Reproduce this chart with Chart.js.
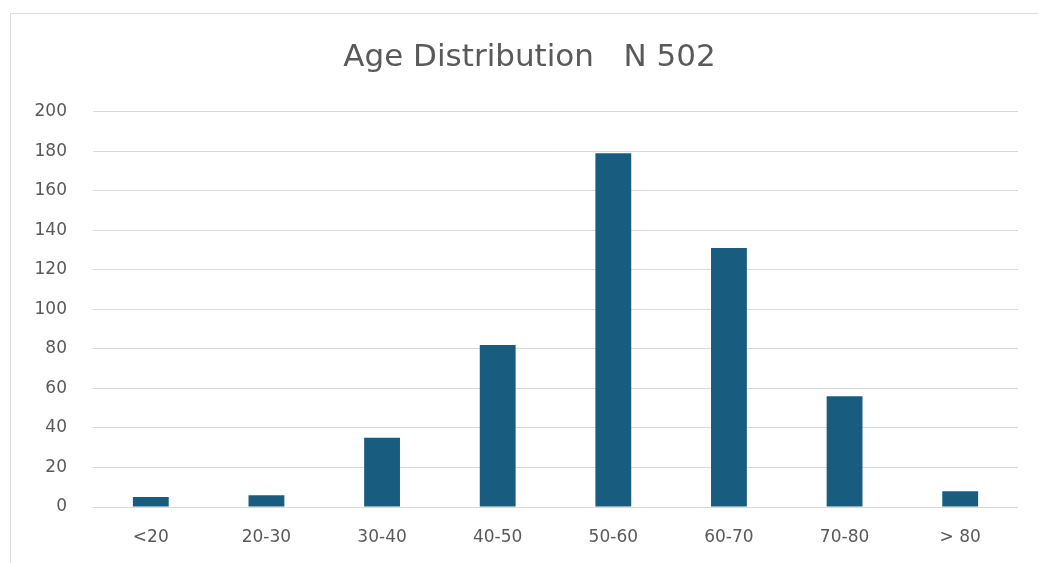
<!DOCTYPE html>
<html>
<head>
<meta charset="utf-8">
<script src="https://cdn.jsdelivr.net/npm/chart.js@4.4.1/dist/chart.umd.min.js"></script>
<style>
  html, body { margin: 0; padding: 0; background: #fff; }
  #wrap { position: relative; width: 1038px; height: 563px; overflow: hidden; }
  #frame {
    position: absolute; left: 10px; top: 13px; width: 1100px; height: 600px;
    border: 1px solid #dcdcdc; box-sizing: border-box;
  }
  canvas { position: absolute; left: 0; top: 0; }
</style>
</head>
<body>
<div id="wrap">
  <div id="frame"></div>
  <canvas id="chart" width="1038" height="563"></canvas>
</div>
<script>
  const TITLE = "Age Distribution   N 502";
  const categories = ["<20", "20-30", "30-40", "40-50", "50-60", "60-70", "70-80", "> 80"];
  const counts = [5, 6, 35, 82, 179, 131, 56, 8];
  const Y_MIN = 0;
  const Y_MAX = 200;
  const Y_STEP = 20;

  const GRAY = "#595959";
  const BAR = "#185d80";

  // nudge the title box so the title is centred like the original
  const titleShift = {
    id: "titleShift",
    afterLayout(chart) {
      if (chart.titleBlock) chart.titleBlock.left += 41;
    },
  };

  new Chart(document.getElementById("chart"), {
    type: "bar",
    plugins: [titleShift],
    data: {
      labels: categories,
      datasets: [
        {
          label: "Count",
          data: counts,
          backgroundColor: BAR,
          borderWidth: 0,
          barPercentage: 0.31,
          categoryPercentage: 1,
        },
      ],
    },
    options: {
      responsive: false,
      animation: false,
      layout: { padding: { left: 0, right: 20, top: 0, bottom: 0 } },
      scales: {
        x: {
          grid: { display: false },
          border: { display: false },
          ticks: {
            color: GRAY,
            font: { family: "DejaVu Sans", size: 17 },
            padding: 12,
          },
          afterFit: (scale) => { scale.height = 56; },
        },
        y: {
          min: Y_MIN,
          max: Y_MAX,
          ticks: {
            stepSize: Y_STEP,
            color: GRAY,
            font: { family: "DejaVu Sans", size: 17 },
            padding: 26,
          },
          grid: { color: "#d9d9d9", lineWidth: 1, drawTicks: false },
          border: { display: false },
          afterFit: (scale) => { scale.width = 93; },
        },
      },
      plugins: {
        legend: { display: false },
        tooltip: { enabled: false },
        title: {
          display: true,
          text: TITLE,
          color: GRAY,
          font: { family: "DejaVu Sans", size: 31, weight: "normal" },
          padding: { top: 39, bottom: 35.5 },
        },
      },
    },
  });
</script>
</body>
</html>
